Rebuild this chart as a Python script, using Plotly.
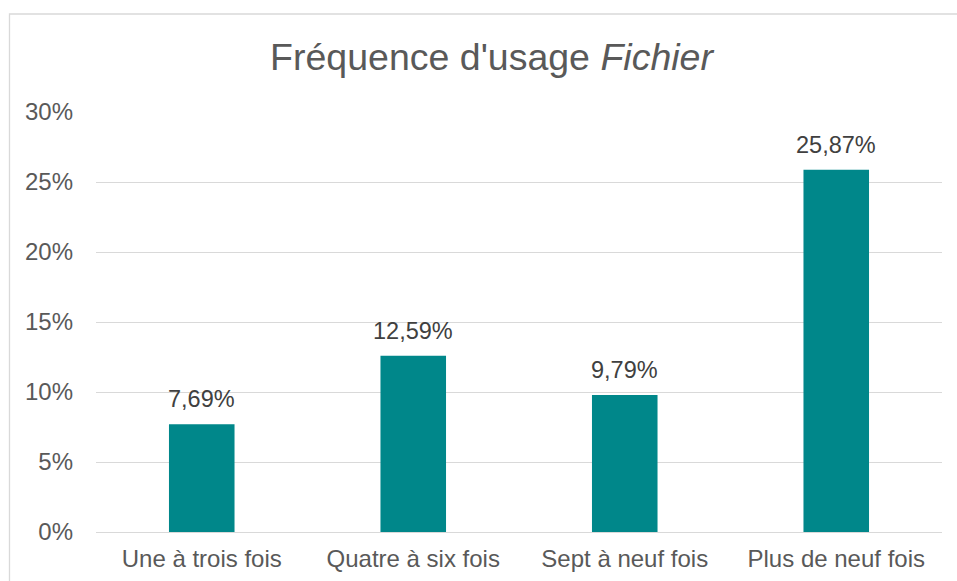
import plotly.graph_objects as go

categories = ["Une à trois fois", "Quatre à six fois", "Sept à neuf fois", "Plus de neuf fois"]
values = [7.69, 12.59, 9.79, 25.87]
tick_vals = [0, 5, 10, 15, 20, 25, 30]
tick_text = ["0%", "5%", "10%", "15%", "20%", "25%", "30%"]
labels = [f"{v:.2f}".replace(".", ",") + "%" for v in values]

W, H = 957, 581
ml, mr, mt, mb = 96, 15, 112, 49
pw, ph = W - ml - mr, H - mt - mb

fig = go.Figure()
fig.add_trace(go.Bar(
    x=categories, y=values, width=0.31,
    marker=dict(color="#00878A", line=dict(width=0)),
    hoverinfo="skip",
))
for c, v, t in zip(categories, values, labels):
    fig.add_annotation(x=c, y=v, text=t, showarrow=False, yanchor="bottom",
                       yshift=10, font=dict(family="Liberation Sans, Arial", size=23.5, color="#404040"))

# outer chart border (partly cropped)
fig.add_shape(type="rect", xref="paper", yref="paper",
              x0=(9.5 - ml) / pw, x1=1.2, y0=-0.3, y1=(H - mb - 14) / ph,
              line=dict(color="#D9D9D9", width=1.3), layer="below")

fig.update_layout(
    width=W, height=H,
    margin=dict(l=ml, r=mr, t=mt, b=mb, autoexpand=False),
    paper_bgcolor="white", plot_bgcolor="white",
    showlegend=False,
    font=dict(family="Liberation Sans, Arial", color="#595959", size=24),
    title=dict(text="Fréquence d'usage <i>Fichier</i>", x=491.5 / W, xanchor="center", xref="container",
               y=1 - 57 / H, yanchor="middle", yref="container",
               font=dict(size=37.5, color="#595959")),
    bargap=0.69,
)
fig.update_yaxes(range=[0, 30], tickvals=tick_vals, ticktext=tick_text,
                 showgrid=True, gridcolor="#D9D9D9", gridwidth=1.3,
                 zeroline=False, showline=False, ticks="", ticklabelstandoff=22,
                 tickfont=dict(size=24, color="#595959"), fixedrange=True, automargin=False)
fig.update_xaxes(showline=True, linecolor="#D9D9D9", linewidth=1.3, ticks="",
                 ticklabelstandoff=5, tickfont=dict(size=24, color="#595959"),
                 showgrid=False, fixedrange=True, automargin=False)

fig.write_html("out.html", config={"displayModeBar": False},
               post_script="document.body.style.margin='0';document.body.style.padding='0';")
